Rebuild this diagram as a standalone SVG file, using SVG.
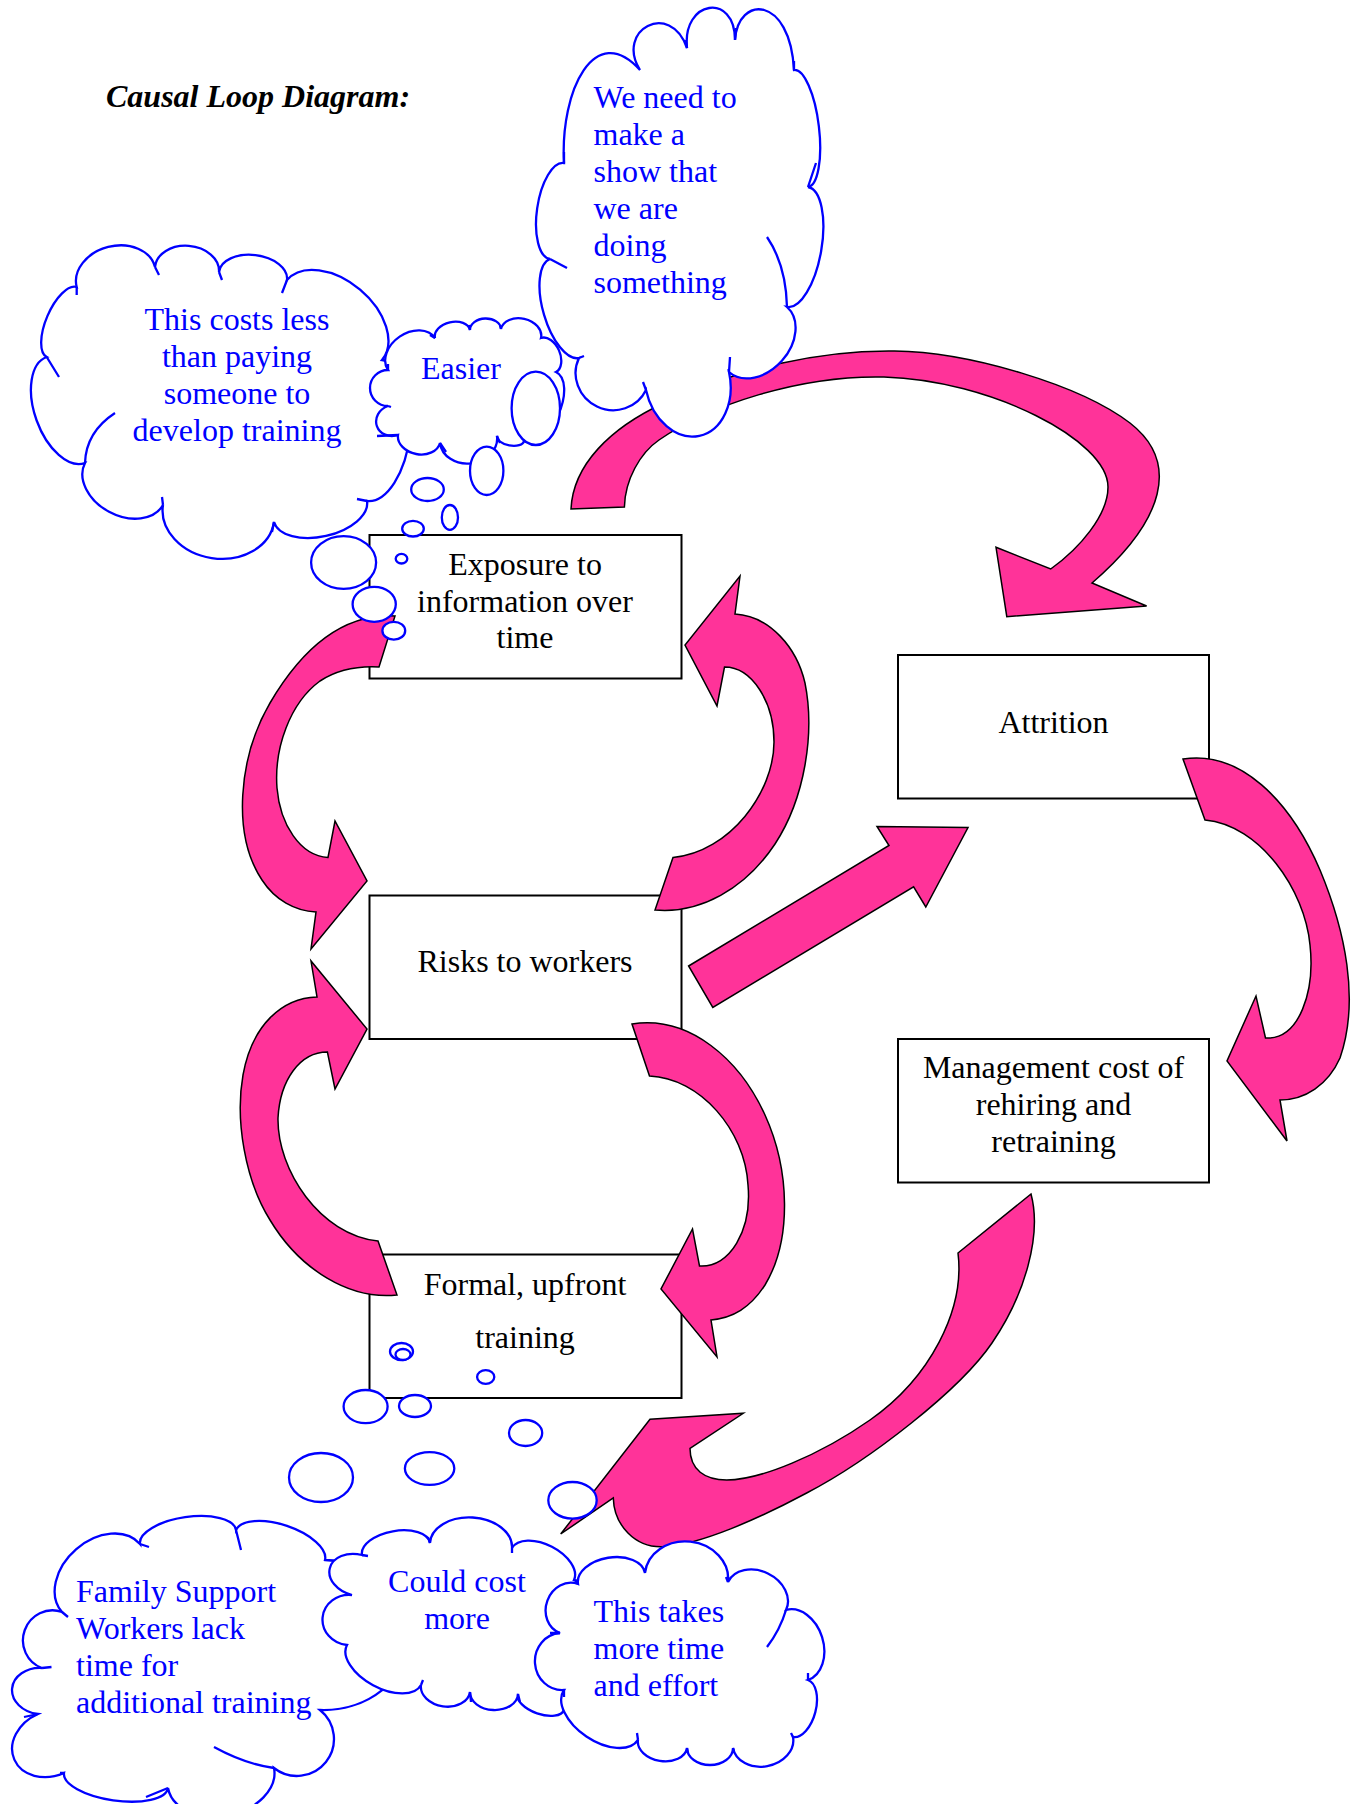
<svg xmlns="http://www.w3.org/2000/svg" width="1359" height="1804" viewBox="0 0 1359 1804">
<defs>
<style>
.box{fill:#fff;stroke:#000;stroke-width:2}
.arrow{fill:#FF3399;stroke:#000;stroke-width:1.5;stroke-linejoin:miter}
.cloud{fill:#fff;stroke:#0000FF;stroke-width:2.3}
.seam{fill:none;stroke:#0000FF;stroke-width:2.3;stroke-linecap:butt}
.bubble{fill:#fff;stroke:#0000FF;stroke-width:2.3}
.t{font-family:"Liberation Serif","Times New Roman",serif;font-size:32px;fill:#000}
.c{text-anchor:middle}
.blue{fill:#0000FF}
.title{font-weight:bold;font-style:italic}
</style>
</defs>
<rect x="0" y="0" width="1359" height="1804" fill="#fff"/>
<text class="t title" x="106" y="107">Causal Loop Diagram:</text>

<g id="node-exposure">
<rect class="box" x="369.5" y="535" width="312" height="143.5"/>
<text class="t c"><tspan x="525" y="575">Exposure to</tspan><tspan x="525" y="612">information over</tspan><tspan x="525" y="648">time</tspan></text>
</g>
<g id="node-risks">
<rect class="box" x="369.5" y="895.5" width="312" height="143.5"/>
<text class="t c" x="525" y="972">Risks to workers</text>
</g>
<g id="node-formal">
<rect class="box" x="369.5" y="1254.5" width="312" height="143.5"/>
<text class="t c"><tspan x="525" y="1294.5">Formal, upfront</tspan><tspan x="525" y="1348">training</tspan></text>
</g>
<g id="node-attrition">
<rect class="box" x="898" y="655" width="311" height="143.5"/>
<text class="t c" x="1053.5" y="732.5">Attrition</text>
</g>
<g id="node-management">
<rect class="box" x="898" y="1039" width="311" height="143.5"/>
<text class="t c"><tspan x="1053.5" y="1078">Management cost of</tspan><tspan x="1053.5" y="1115">rehiring and</tspan><tspan x="1053.5" y="1152">retraining</tspan></text>
</g>

<g id="connectors">
<path class="arrow" d="M571,509 C573,465 610,428 664,403 C740,368 820,350 894.5,351 C970,352 1080,385 1130,423 C1180,462 1165,520 1092,583 L1146.6,606 L1006.8,616.7 L996,547.3 L1050.7,569 C1080,548 1108,515 1108,487 C1108,440 990,380 884,377 C800,375 710,405 659,440 C640,453 625,480 624.4,507 Z"/>
<path class="arrow" d="M395,616 C340,613 300,652 270,703 C238,758 232,835 262,880 C275,900 295,911 316,912 L311,949 L367,881 L335,821 L328,857.5 C300,856 280,824 277,788 C274,748 290,703 320,681 C340,668 360,666 379,667 Z"/>
<path class="arrow" d="M655,910 C700,914 745,889 775,844 C805,798 815,733 805,683 C797,648 770,616 735,614 L740,576 L685,645 L717,706 L724.5,667 C752,667 774,702 774,742 C774,792 730,852 673,857.5 Z"/>
<path class="arrow" d="M397,1295 C350,1300 300,1270 270,1220 C245,1180 235,1120 243,1075 C252,1025 282,998 317,997 L311,961 L367,1029 L335,1089 L327.4,1052 C300,1052 280,1080 278,1118 C277,1170 320,1235 378,1241 Z"/>
<path class="arrow" d="M632,1024 C690,1015 740,1060 765,1115 C790,1170 792,1240 765,1285 C750,1308 733,1318 711,1320 L717,1357 L661,1289 L692.5,1229 L699.5,1266 C730,1268 752,1230 748,1185 C745,1130 700,1078 649.5,1076 Z"/>
<path class="arrow" d="M688.6,966 L889,845.5 L877,826.4 L968,827.5 L925.8,907 L913.6,886.8 L712.8,1007.4 Z"/>
<path class="arrow" d="M1183,759 C1240,750 1290,800 1320,870 C1345,930 1360,1000 1340,1058 C1328,1085 1305,1100 1280,1100 L1287,1141 L1227,1061 L1256,996 L1265.5,1038 C1300,1040 1315,990 1310,945 C1305,890 1260,825 1205,820 Z"/>
<path class="arrow" d="M1031,1194 C1042,1235 1025,1295 992,1343 C960,1390 870,1460 806.7,1493 C760,1518 700,1545 663.3,1546.7 C635,1548 614,1525 613.3,1498 L560.7,1534 L650,1419.3 L743.3,1413.3 L690,1448.3 C690,1470 705,1480 726.7,1480 C760,1480 820,1455 870,1420 C930,1378 965,1310 958,1253 Z"/>
</g>

<g id="cloud-costs-less">
<path class="cloud" d="M76.7,287 A40.4,31 -14.3 0 1 155,267 A32.1,24 4.5 0 1 219,272 A34.2,21 6.7 0 1 287,280 A62.1,40 40.1 0 1 382,360 A70.9,36 96.1 0 1 367,501 A47.7,26 167.3 0 1 274,522 A56.1,45 188.7 0 1 163,505 A44.3,32 208.3 0 1 85,463 A56.3,31 250.1 0 1 46.7,357 A38.1,16 -66.8 0 1 76.7,287 Z"/>
<path class="seam" d="M76.7,287 L76.7,295 M155,267 L159,275 M219,272 L222,280 M287,280 L282,293 M367,501 L357,499 M274,522 L272,532 M163,505 L162,497 M85,463 Q86,432 115,413 M46.7,357 L59,377"/>
<text class="t c blue"><tspan x="237" y="330">This costs less</tspan><tspan x="237" y="367">than paying</tspan><tspan x="237" y="404">someone to</tspan><tspan x="237" y="441">develop training</tspan></text>
</g>

<g id="cloud-easier">
<path class="cloud" d="M388,370 A28.4,21 -34.2 0 1 435,338 A17.9,12 -12.9 0 1 470,330 A15.5,11 -1.8 0 1 501,329 A20.5,15 12.7 0 1 541,338 A18.6,12 66.2 0 1 556,372 A38,20 114.9 0 1 524,441 A13.7,7 190.5 0 1 497,436 A28.7,24 173 0 1 440,443 A21.4,16 190.8 0 1 398,435 A15.3,17 251 0 1 388,406 A18,18 -90 0 1 388,370 Z"/>
<path class="seam" d="M388,370 L388,364 M435,338 L430,335 M470,330 L469,325 M501,329 L500,325 M497,436 L500,443 M440,443 L446,452 M398,435 L377,436 M388,406 L391,407"/>
<text class="t blue" x="421" y="379">Easier</text>
</g>

<g id="cloud-show">
<path class="cloud" d="M564,163 C560,90 595,20 640,70 C615,30 670,0 687,48 C682,0 735,-8 735,40 C738,-5 790,-5 794,70 A58.9,18 83.2 0 1 808,187 A60.9,24 99.9 0 1 787,307 A43.5,32 131.7 0 1 729,372 A42.4,56 167.8 0 1 646,390 A37.1,36 205.5 0 1 579,358 A51.6,22 253.7 0 1 550,259 A48.5,20 -81.7 0 1 564,163 Z"/>
<path class="seam" d="M564,163 L564,152 M687,48 L686,40 M735,40 L736,28 M794,70 L794,61 M808,187 L816,163 M767,237 Q786,265 787,307 M729,372 L730,357 M646,390 L643,382 M579,358 L584,356 M550,259 L567,268"/>
<text class="t blue"><tspan x="593.5" y="108">We need to</tspan><tspan x="593.5" y="145">make a</tspan><tspan x="593.5" y="182">show that</tspan><tspan x="593.5" y="219">we are</tspan><tspan x="593.5" y="256">doing</tspan><tspan x="593.5" y="293">something</tspan></text>
</g>

<g id="bubbles-top">
<ellipse class="bubble" cx="535.8" cy="408.3" rx="24.2" ry="36.7"/>
<ellipse class="bubble" cx="486.7" cy="470.8" rx="16.7" ry="24.2"/>
<ellipse class="bubble" cx="427.5" cy="489.5" rx="16.3" ry="11.5"/>
<ellipse class="bubble" cx="449.9" cy="517.4" rx="8.1" ry="12.4"/>
<ellipse class="bubble" cx="413" cy="528.7" rx="10.8" ry="7.8"/>
<ellipse class="bubble" cx="343.6" cy="562.5" rx="32.5" ry="26.4"/>
<ellipse class="bubble" cx="401.5" cy="558.7" rx="5.8" ry="4.8"/>
<ellipse class="bubble" cx="374.2" cy="604.3" rx="21.6" ry="17.5"/>
<ellipse class="bubble" cx="393.8" cy="630.7" rx="11.4" ry="8.9"/>
</g>

<g id="bubbles-bottom">
<ellipse class="bubble" cx="401.5" cy="1351.5" rx="11.5" ry="8.5"/>
<ellipse class="bubble" cx="403" cy="1354.5" rx="7.5" ry="5.5"/>
<ellipse class="bubble" cx="485.7" cy="1377" rx="8.6" ry="6.8"/>
<ellipse class="bubble" cx="365.6" cy="1406.6" rx="22" ry="16.6"/>
<ellipse class="bubble" cx="415" cy="1406" rx="16" ry="11"/>
<ellipse class="bubble" cx="525.6" cy="1433" rx="16.6" ry="13"/>
<ellipse class="bubble" cx="321" cy="1477.5" rx="32" ry="24.5"/>
<ellipse class="bubble" cx="429.6" cy="1468.5" rx="24.7" ry="16.4"/>
<ellipse class="bubble" cx="572.5" cy="1500.3" rx="24.2" ry="18.3"/>
</g>

<g id="cloud-family">
<path class="cloud" d="M62,1612 A51.7,38 -41.1 0 1 140,1544 A48.5,20 -8.3 0 1 236,1530 A47,21 18.6 0 1 325,1560 A75,87 91.9 0 1 320,1710 A37,37 128.4 0 1 274,1768 A53.9,38 169.3 0 1 168,1788 A52.5,20 188.2 0 1 64,1773 A32.2,40 246.2 0 1 38,1714 A23.1,29 -85 0 1 42,1668 A29.7,29 -70.3 0 1 62,1612 Z"/>
<path class="seam" d="M140,1544 L149,1547 M236,1530 L241,1550 M62,1612 L68,1617 M42,1668 L51.5,1667 M38,1714 L24,1717 M64,1773 L60,1773 M274,1768 Q245,1764 214,1747 M168,1788 L146,1797"/>
<text class="t blue"><tspan x="76" y="1602">Family Support</tspan><tspan x="76" y="1639">Workers lack</tspan><tspan x="76" y="1676">time for</tspan><tspan x="76" y="1713">additional training</tspan></text>
</g>

<g id="cloud-cost-more">
<path class="cloud" d="M352,1595 A20.6,28 -76 0 1 362,1555 A34.5,18 -10 0 1 430,1543 A41,28 3.5 0 1 512,1548 A34.9,20 27.3 0 1 574,1580 A65.2,30 94.4 0 1 564,1710 A24.3,12 199.2 0 1 518,1694 A24,17 182.4 0 1 470,1692 A24.7,18 188.1 0 1 421,1685 A42,23 208.4 0 1 347,1645 A25.1,27 -84.3 0 1 352,1595 Z"/>
<path class="seam" d="M362,1555 L368,1556 M430,1543 L428,1537 M512,1548 L512,1553 M421,1685 L423,1680 M470,1692 L471,1702 M518,1694 L520,1702"/>
<text class="t c blue"><tspan x="457" y="1592">Could cost</tspan><tspan x="457" y="1629">more</tspan></text>
</g>

<g id="cloud-more-time">
<path class="cloud" d="M578,1584 A33.9,21 -9.3 0 1 645,1573 A41.7,36 6.2 0 1 728,1582 A32.2,25 25.8 0 1 786,1610 A36.7,27 72.6 0 1 808,1680 A29.5,16 104.7 0 1 793,1737 A30.5,24 169.6 0 1 733,1748 A23,17 180 0 1 687,1748 A24.8,17 189.3 0 1 638,1740 A44.6,26 214 0 1 564,1690 A28.5,27 266 0 1 560,1633 A26.1,23 -69.8 0 1 578,1584 Z"/>
<path class="seam" d="M728,1582 L726,1577 M786,1610 Q780,1630 767,1647 M808,1680 L808,1673 M793,1737 L791,1733 M733,1748 L734,1751 M687,1748 L688,1753 M638,1740 L637,1733 M564,1690 L564,1697 M560,1633 L550,1633 M578,1584 L575,1580"/>
<text class="t blue"><tspan x="593.5" y="1622">This takes</tspan><tspan x="593.5" y="1659">more time</tspan><tspan x="593.5" y="1696">and effort</tspan></text>
</g>
</svg>
